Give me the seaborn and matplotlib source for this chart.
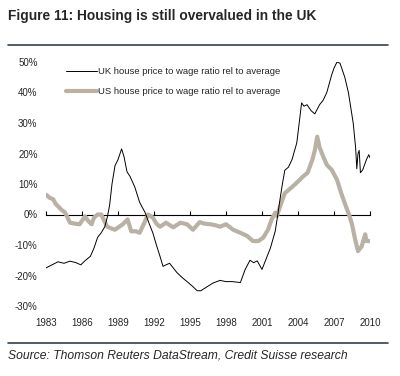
"""
Figure 11: Housing is still overvalued in the UK.
House price to wage ratio relative to average, UK vs US, 1983-2010.
Values read off the published chart.
"""

import matplotlib.pyplot as plt
import pandas as pd
import seaborn as sns
from matplotlib.lines import Line2D

uk_year = [1983.0, 1983.5, 1984.0, 1984.5, 1985.0, 1985.5, 1985.9, 1986.3, 1986.7, 1987.0,
           1987.3, 1987.6, 1987.9, 1988.1, 1988.3, 1988.5, 1988.75, 1989.0, 1989.3, 1989.5,
           1989.75, 1990.0, 1990.4, 1990.8, 1991.25, 1991.6, 1991.9, 1992.2, 1992.5, 1992.75,
           1993.0, 1993.3, 1993.6, 1993.9, 1994.3, 1994.75, 1995.2, 1995.6, 1995.9, 1996.3,
           1996.9, 1997.5, 1998.0, 1998.5, 1999.2, 1999.6, 2000.0, 2000.3, 2000.6, 2001.0,
           2001.4, 2001.7, 2002.1, 2002.3, 2002.5, 2002.7, 2002.9, 2003.2, 2003.5, 2003.9,
           2004.1, 2004.3, 2004.5, 2004.75, 2005.1, 2005.4, 2005.8, 2006.1, 2006.4, 2006.8,
           2007.0, 2007.25, 2007.5, 2007.9, 2008.2, 2008.6, 2008.8, 2008.9, 2009.0, 2009.1,
           2009.2, 2009.4, 2009.7, 2009.9, 2010.0]
uk_ratio = [-17.5, -16.5, -15.5, -16.0, -15.3, -15.8, -16.5, -15.0, -13.7, -11.0,
            -7.5, -6.0, -4.0, -1.0, 3.0, 10.0, 16.0, 18.0, 21.5, 19.0,
            14.0, 12.5, 9.0, 4.0, 0.7, -3.0, -6.0, -10.0, -13.7, -17.0,
            -16.5, -16.0, -17.5, -19.0, -20.5, -22.0, -23.5, -25.0, -25.0, -24.0,
            -22.5, -21.6, -22.0, -22.0, -22.3, -18.0, -15.0, -15.8, -15.2, -18.0,
            -14.0, -11.0, -5.5, -0.5, 5.0, 10.0, 14.5, 15.5, 18.0, 23.5,
            30.0, 36.6, 35.5, 36.0, 34.0, 33.0, 36.0, 37.5, 40.0, 45.7,
            48.0, 50.0, 49.6, 45.0, 40.0, 30.0, 22.0, 15.0, 20.0, 21.0,
            13.7, 14.7, 18.0, 19.6, 18.6]

us_year = [1983.0, 1983.3, 1983.6, 1983.8, 1984.0, 1984.3, 1984.6, 1985.0, 1985.4, 1985.8,
           1986.25, 1986.5, 1986.8, 1987.0, 1987.3, 1987.6, 1987.8, 1988.1, 1988.4, 1988.75,
           1989.1, 1989.4, 1989.8, 1990.1, 1990.5, 1990.8, 1991.2, 1991.5, 1991.9, 1992.2,
           1992.5, 1993.0, 1993.6, 1994.2, 1994.75, 1995.25, 1995.8, 1996.2, 1996.7, 1997.1,
           1997.5, 1998.0, 1998.6, 1999.2, 1999.75, 2000.25, 2000.7, 2001.1, 2001.5, 2001.8,
           2002.1, 2002.25, 2002.5, 2002.9, 2003.5, 2004.0, 2004.4, 2004.8, 2005.2, 2005.4,
           2005.6, 2005.8, 2006.1, 2006.4, 2006.8, 2007.25, 2007.6, 2008.0, 2008.3, 2008.5,
           2008.75, 2009.0, 2009.3, 2009.6, 2009.7, 2010.0]
us_ratio = [6.5, 5.5, 5.0, 3.5, 2.7, 1.5, 0.6, -2.7, -3.0, -3.2,
            -0.6, -2.0, -3.2, -1.0, 0.0, 0.0, -1.6, -4.0, -4.5, -5.0,
            -4.0, -3.2, -1.6, -5.5, -5.5, -6.0, -2.7, 0.0, -1.0, -3.0,
            -4.0, -2.7, -4.2, -2.7, -3.2, -5.0, -2.5, -3.0, -3.2, -3.5,
            -4.0, -3.2, -5.0, -6.0, -7.0, -8.7, -8.7, -7.6, -5.0, -1.6,
            0.6, -0.5, 2.6, 7.0, 9.0, 10.8, 12.4, 13.7, 18.0, 21.0,
            25.5, 22.0, 19.0, 16.3, 14.7, 11.4, 7.0, 2.6, -0.6, -3.2,
            -8.0, -12.0, -10.5, -6.5, -8.7, -8.7]

year_ticks = [1983, 1986, 1989, 1992, 1995, 1998, 2001, 2004, 2007, 2010]
pct_ticks = [-30, -20, -10, 0, 10, 20, 30, 40, 50]

UK_LABEL = "UK house price to wage ratio rel to average"
US_LABEL = "US house price to wage ratio rel to average"
US_COLOR = "#bab1a5"
RULE_COLOR = "#34424d"

sns.set_style("white")
plt.rcParams["font.family"] = ["Liberation Sans", "DejaVu Sans"]

W, H = 400, 376
fig = plt.figure(figsize=(W / 100, H / 100), dpi=100)
ax = fig.add_axes([46 / W, 1 - 306 / H, 324 / W, 244 / H])

uk = pd.DataFrame({"year": uk_year, "ratio": uk_ratio})
us = pd.DataFrame({"year": us_year, "ratio": us_ratio})

sns.lineplot(data=us, x="year", y="ratio", ax=ax, color=US_COLOR, lw=3.0,
             estimator=None, label=US_LABEL, zorder=2)
sns.lineplot(data=uk, x="year", y="ratio", ax=ax, color="black", lw=0.7,
             estimator=None, label=UK_LABEL, zorder=3)

ax.set_xlim(1983, 2010)
ax.set_ylim(-30, 50)
ax.set_xticks(year_ticks)
ax.set_yticks(pct_ticks)
ax.set_yticklabels([f"{v}%" for v in pct_ticks])
ax.set_xlabel("")
ax.set_ylabel("")
for s in ax.spines.values():
    s.set_visible(False)
ax.tick_params(axis="x", length=0, pad=9, labelsize=7)
ax.tick_params(axis="y", length=0, pad=6, labelsize=7)

# zero line with small upward ticks
zero_pos = (0 - ax.get_ylim()[0]) / (ax.get_ylim()[1] - ax.get_ylim()[0])
zero_axis = ax.secondary_xaxis(zero_pos)
zero_axis.set_xticks(year_ticks)
zero_axis.tick_params(direction="in", length=3, width=0.8, labelbottom=False,
                      labeltop=False, color="black")
zero_axis.spines["bottom"].set_color("black")
zero_axis.spines["bottom"].set_linewidth(0.8)

handles, labels = ax.get_legend_handles_labels()
order = [labels.index(UK_LABEL), labels.index(US_LABEL)]
ax.legend([handles[i] for i in order], [labels[i] for i in order],
          loc="upper left", bbox_to_anchor=(66 / W, 1 - 67 / H),
          bbox_transform=fig.transFigure, frameon=False, fontsize=6.8,
          handlelength=3.3, handletextpad=0.1, labelspacing=1.15,
          borderpad=0, borderaxespad=0)

fig.text(8 / W, 1 - 16 / H, "Figure 11: Housing is still overvalued in the UK",
         fontsize=9.9, fontweight="bold", va="center", ha="left")
fig.add_artist(Line2D([8 / W, 388 / W], [1 - 45 / H, 1 - 45 / H],
                      transform=fig.transFigure, color=RULE_COLOR, lw=1.2))
fig.add_artist(Line2D([8 / W, 388 / W], [1 - 343 / H, 1 - 343 / H],
                      transform=fig.transFigure, color=RULE_COLOR, lw=1.2))
fig.text(8 / W, 1 - 356 / H,
         "Source: Thomson Reuters DataStream, Credit Suisse research",
         fontsize=8.7, fontstyle="italic", va="center", ha="left")

fig.savefig("out.png", dpi=100)
